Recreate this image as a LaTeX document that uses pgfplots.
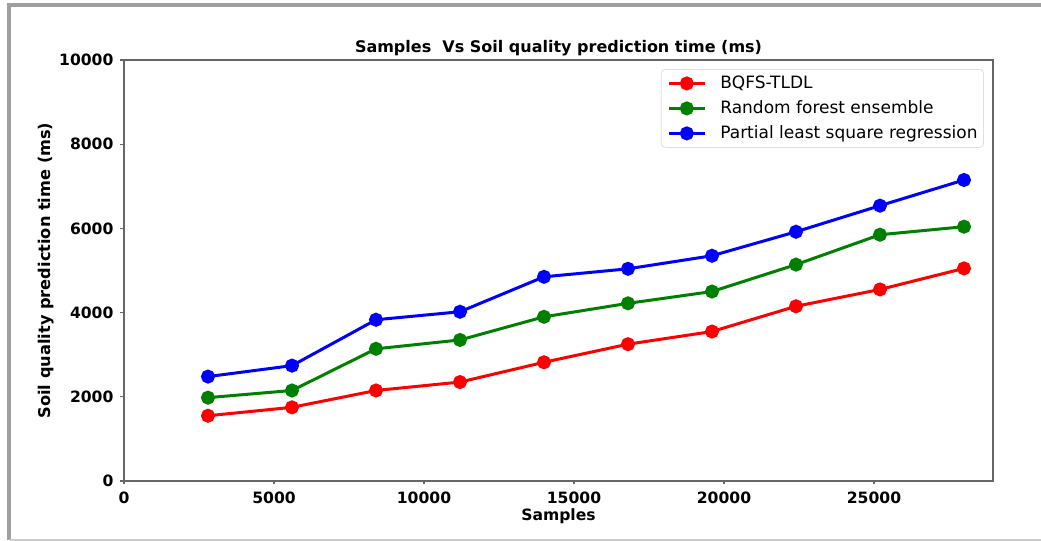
\documentclass[border=0pt]{standalone}
\usepackage{pgfplots}
\pgfplotsset{compat=1.18}
\usepackage{fontspec}
\setmainfont{DejaVu Sans}
\definecolor{mplred}{RGB}{255,0,0}
\definecolor{mplgreen}{RGB}{0,128,0}
\definecolor{mplblue}{RGB}{0,0,255}
\begin{document}
\begin{tikzpicture}
\useasboundingbox (-62pt,-30pt) rectangle (458.5pt,240.5pt);
\fill[white] (-62pt,-30pt) rectangle (458.5pt,240.5pt);
\draw[gray!75, line width=2pt] (-57.5pt,-29.5pt) -- (-57.5pt,238pt) -- (458.5pt,238pt);
\draw[gray!40, line width=0.8pt] (-57.5pt,-29.6pt) -- (458.5pt,-29.6pt);
\begin{axis}[
  scale only axis,
  width=434.5pt, height=210.5pt,
  xmin=0, xmax=28967, ymin=0, ymax=10000,
  xtick={0,5000,10000,15000,20000,25000},
  ytick={0,2000,4000,6000,8000,10000},
  scaled ticks=false,
  /pgf/number format/1000 sep={},
  /pgf/number format/assume math mode=true,
  tick align=outside,
  major tick length=1.75pt,
  xtick pos=left, ytick pos=left,
  axis line style={black!60, line width=0.7pt},
  tick style={black!60, line width=0.6pt},
  ticklabel style={font=\bfseries\fontsize{7.8}{9}\selectfont},
  every axis title shift=0pt,
  title={Samples\ \ Vs Soil quality prediction time (ms)},
  title style={font=\bfseries\fontsize{8}{9.5}\selectfont, at={(axis description cs:0.5,1.0285)}, anchor=center, inner sep=0pt, yshift=0pt},
  xlabel={Samples},
  xlabel style={font=\bfseries\fontsize{7.8}{9}\selectfont, at={(axis description cs:0.5,-0.0831)}, anchor=center, inner sep=0pt},
  ylabel={Soil quality prediction time (ms)},
  ylabel style={font=\bfseries\fontsize{8.1}{9.5}\selectfont, at={(axis description cs:-0.0898,0.5)}, anchor=center, inner sep=0pt},
  legend cell align=left,
  legend image code/.code={\draw[mark repeat=2,mark phase=2,#1] plot coordinates {(0pt,0pt)(9pt,0pt)(18pt,0pt)};},
  legend style={at={(axis description cs:0.9896,0.9786)}, anchor=north east,
    draw=gray!25, rounded corners=2pt, fill=white,
    font=\fontsize{8.5}{10}\selectfont,
    nodes={inner sep=0pt, text height=6.4pt, text depth=1.6pt},
    column sep=7pt, row sep=4.5pt, inner xsep=3pt, inner ysep=3pt},
  every axis plot/.append style={line width=1.5pt, mark=*, mark size=2.75pt},
]
\addplot[color=mplred, mark options={fill=mplred, draw=mplred}] coordinates {
(2800,1550) (5600,1750) (8400,2150) (11200,2350) (14000,2820)
(16800,3250) (19600,3550) (22400,4150) (25200,4550) (28000,5050)};
\addlegendentry{BQFS-TLDL}
\addplot[color=mplgreen, mark options={fill=mplgreen, draw=mplgreen}] coordinates {
(2800,1980) (5600,2150) (8400,3140) (11200,3350) (14000,3900)
(16800,4220) (19600,4500) (22400,5140) (25200,5850) (28000,6040)};
\addlegendentry{Random forest ensemble}
\addplot[color=mplblue, mark options={fill=mplblue, draw=mplblue}] coordinates {
(2800,2480) (5600,2740) (8400,3830) (11200,4020) (14000,4850)
(16800,5040) (19600,5350) (22400,5920) (25200,6540) (28000,7150)};
\addlegendentry{Partial least square regression}
\end{axis}
\end{tikzpicture}
\end{document}
